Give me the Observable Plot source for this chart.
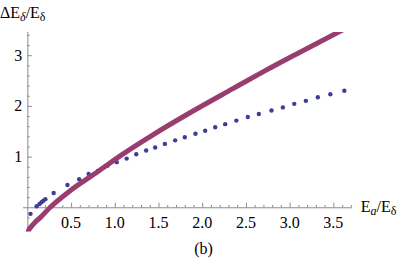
<!DOCTYPE html>
<html><head><meta charset="utf-8">
<script src="https://cdn.jsdelivr.net/npm/d3@7"></script>
<script src="https://cdn.jsdelivr.net/npm/@observablehq/plot@0.6"></script>
<style>
body{margin:0;background:#fff;font-family:"Liberation Serif"}
svg, svg text, svg tspan{font-family:"Liberation Serif" !important}
</style>
</head><body><div id="chart"></div>
<script>
// Data
const dotX = [0.03,0.10,0.133,0.156,0.177,0.20,0.295,0.453,0.587,0.695,0.80,0.91,1.017,1.13,1.24,1.353,1.456,1.567,1.685,1.795,1.917,2.028,2.143,2.257,2.385,2.516,2.642,2.787,2.917,3.047,3.18,3.317,3.46,3.62];
const dotY = [-0.12,0.03,0.075,0.11,0.14,0.17,0.29,0.45,0.565,0.665,0.725,0.83,0.90,0.97,1.055,1.13,1.19,1.26,1.33,1.39,1.46,1.52,1.59,1.65,1.72,1.79,1.85,1.92,1.98,2.05,2.11,2.18,2.24,2.31];
const curveX = [0.0,0.01,0.03,0.08,0.144,0.25,0.487,0.79,1.06,1.44,1.82,2.34,2.70,3.08,3.63];
const curveY = [-0.52,-0.44,-0.39,-0.29,-0.19,0.0,0.34,0.70,1.03,1.45,1.84,2.345,2.69,3.04,3.535];
const xTicks = [0.5,1.0,1.5,2.0,2.5,3.0,3.5];
const xTickLabels = ["0.5","1.0","1.5","2.0","2.5","3.0","3.5"];
const yTicks = [1,2,3];
const yTickLabels = ["1","2","3"];
const xMinor = d3.range(1,38).map(i=>i/10).filter(v=>Math.abs(v*2-Math.round(v*2))>1e-6);
const yMinor = [-0.4,-0.2,0.2,0.4,0.6,0.8,1.2,1.4,1.6,1.8,2.2,2.4,2.6,2.8,3.2,3.4];

const W = 407, H = 263;
const mL = 23, mR = 55.3, mT = 31.9, mB = 31.4;
const xDom = [-0.05, 3.71], yDom = [-0.48, 3.46];
const kx = (xDom[1]-xDom[0])/(W-mL-mR);
const ky = (yDom[1]-yDom[0])/(H-mT-mB);
const axisColor = "#8a8a8a";
const font = "Liberation Serif";

const dots = dotX.map((x,i)=>({x, y: dotY[i]}));
const curve = curveX.map((x,i)=>({x, y: curveY[i]}));

const plot = Plot.plot({
  width: W, height: H,
  marginLeft: mL, marginRight: mR, marginTop: mT, marginBottom: mB,
  x: {domain: xDom, axis: null},
  y: {domain: yDom, axis: null},
  style: {background: "#fff", overflow: "visible", fontFamily: font},
  marks: [
    Plot.ruleY([0], {x1: xDom[0], x2: xDom[1], stroke: axisColor, strokeWidth: 1}),
    Plot.ruleX([0], {y1: yDom[0], y2: yDom[1], stroke: axisColor, strokeWidth: 1}),
    Plot.ruleX(xTicks, {x: d=>d, y1: 0, y2: 4.5*ky, stroke: axisColor}),
    Plot.ruleX(xMinor, {x: d=>d, y1: 0, y2: 2.3*ky, stroke: axisColor}),
    Plot.ruleY(yTicks, {y: d=>d, x1: 0, x2: 4.5*kx, stroke: axisColor}),
    Plot.ruleY(yMinor, {y: d=>d, x1: 0, x2: 2.3*kx, stroke: axisColor}),
    Plot.dot(dots, {x: "x", y: "y", r: 2.2, fill: "#3d3d99", stroke: "none"}),
    Plot.line(curve, {x: "x", y: "y", stroke: "#993d71", strokeWidth: 5, curve: "monotone-x", clip: true})
  ]
});

const svg = d3.select(plot);
const xs = plot.scale("x"), ys = plot.scale("y");
function label(x, y, anchor, str) {
  return svg.append("text").attr("x", x).attr("y", y)
    .attr("text-anchor", anchor)
    .attr("font-size", 16).attr("font-family", font).attr("fill", "#000").text(str);
}
// tick labels placed through the plot's own scales
xTicks.forEach((v, i) => label(xs.apply(v), ys.apply(0) + 20.5, "middle", xTickLabels[i]));
yTicks.forEach((v, i) => label(xs.apply(0) - 5, ys.apply(v) + 5.5, "end", yTickLabels[i]));

function richLabel(x, y, parts) {
  const t = svg.append("text").attr("x", x).attr("y", y)
    .attr("text-anchor", "start")
    .attr("font-size", 16).attr("font-family", font).attr("fill", "#000");
  for (const p of parts) {
    const s = t.append("tspan").text(p.text);
    if (p.sub) s.attr("font-size", 12).attr("dy", 3);
    if (p.back) s.attr("dy", -3);
    if (p.italic) s.attr("font-style", "italic");
  }
  return t;
}
// y-axis label
richLabel(0, 18, [{text: "ΔE"}, {text: "δ", sub: true, italic: true}, {text: "/E", back: true}, {text: "δ", sub: true}]);
// x-axis label
richLabel(xs.apply(xDom[1]) + 9, ys.apply(0) + 5, [{text: "E"}, {text: "a", sub: true, italic: true}, {text: "/E", back: true}, {text: "δ", sub: true}]);
// panel label
label(W/2, 254, "middle", "(b)");

document.getElementById("chart").appendChild(plot);
</script>
</body></html>
